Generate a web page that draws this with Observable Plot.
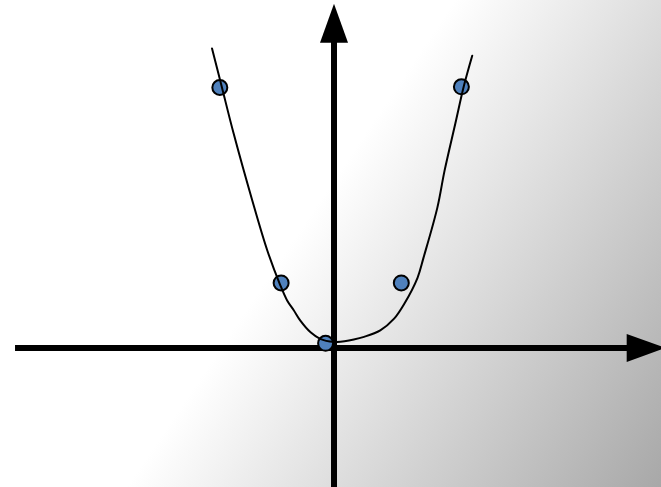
<!DOCTYPE html>
<html><head><meta charset="utf-8">
<script src="https://cdn.jsdelivr.net/npm/d3@7"></script>
<script src="https://cdn.jsdelivr.net/npm/@observablehq/plot@0.6"></script>
<style>html,body{margin:0;padding:0;background:#fff;overflow:hidden;} #chart svg{display:block;}</style>
</head><body><div id="chart"></div>
<script>
// Data points (blue dots)
const pointX = [-1.90, -0.88, -0.14, 1.12, 2.12];
const pointY = [4.01, 1.00, 0.07, 1.00, 4.02];

// Fitted curve
const curveX = [-2.03, -1.87, -1.67, -1.36, -1.11, -0.90, -0.78, -0.67, -0.56, -0.39, -0.23, 0.00, 0.05, 0.33, 0.50, 0.77, 1.00, 1.17, 1.39, 1.49, 1.72, 1.84, 2.02, 2.16, 2.30];
const curveY = [4.61, 4.03, 3.30, 2.27, 1.50, 0.98, 0.73, 0.58, 0.42, 0.24, 0.14, 0.09, 0.09, 0.13, 0.17, 0.27, 0.45, 0.68, 1.08, 1.39, 2.16, 2.73, 3.46, 4.03, 4.50];

// Axes (data units): line extents and arrow tips
const xAxisStart = -5.30, xAxisEnd = 4.95, xArrowTip = 5.52;
const yAxisStart = -2.30, yAxisEnd = 4.80, yArrowTip = 5.30;

const points = pointX.map((x, i) => ({x, y: pointY[i]}));
const curve = curveX.map((x, i) => ({x, y: curveY[i]}));

const arrowHead = {
  draw(ctx) { ctx.moveTo(0, 0); ctx.lineTo(14, 39); ctx.lineTo(-14, 39); ctx.closePath(); }
};

const chart = Plot.plot({
  width: 661,
  height: 487,
  margin: 0,
  x: {domain: [-5.55, 5.45], axis: null},
  y: {domain: [-2.15, 5.35], axis: null},
  style: {background: "linear-gradient(124deg, #ffffff 0%, #ffffff 46%, #a8a8a8 100%)", overflow: "hidden"},
  marks: [
    Plot.ruleY([{y: 0, x1: xAxisStart, x2: xAxisEnd}], {y: "y", x1: "x1", x2: "x2", stroke: "#000", strokeWidth: 6}),
    Plot.ruleX([{x: 0, y1: yAxisStart, y2: yAxisEnd}], {x: "x", y1: "y1", y2: "y2", stroke: "#000", strokeWidth: 6}),
    Plot.dot([{x: xArrowTip, y: 0}], {x: "x", y: "y", symbol: arrowHead, rotate: 90, fill: "#000", stroke: "none"}),
    Plot.dot([{x: 0, y: yArrowTip}], {x: "x", y: "y", symbol: arrowHead, rotate: 0, fill: "#000", stroke: "none"}),
    Plot.dot(points, {x: "x", y: "y", r: 7.5, fill: "#4f81bd", stroke: "#000", strokeWidth: 2}),
    Plot.line(curve, {x: "x", y: "y", curve: "catmull-rom", stroke: "#000", strokeWidth: 2})
  ]
});
document.getElementById("chart").appendChild(chart);
</script>
</body></html>
